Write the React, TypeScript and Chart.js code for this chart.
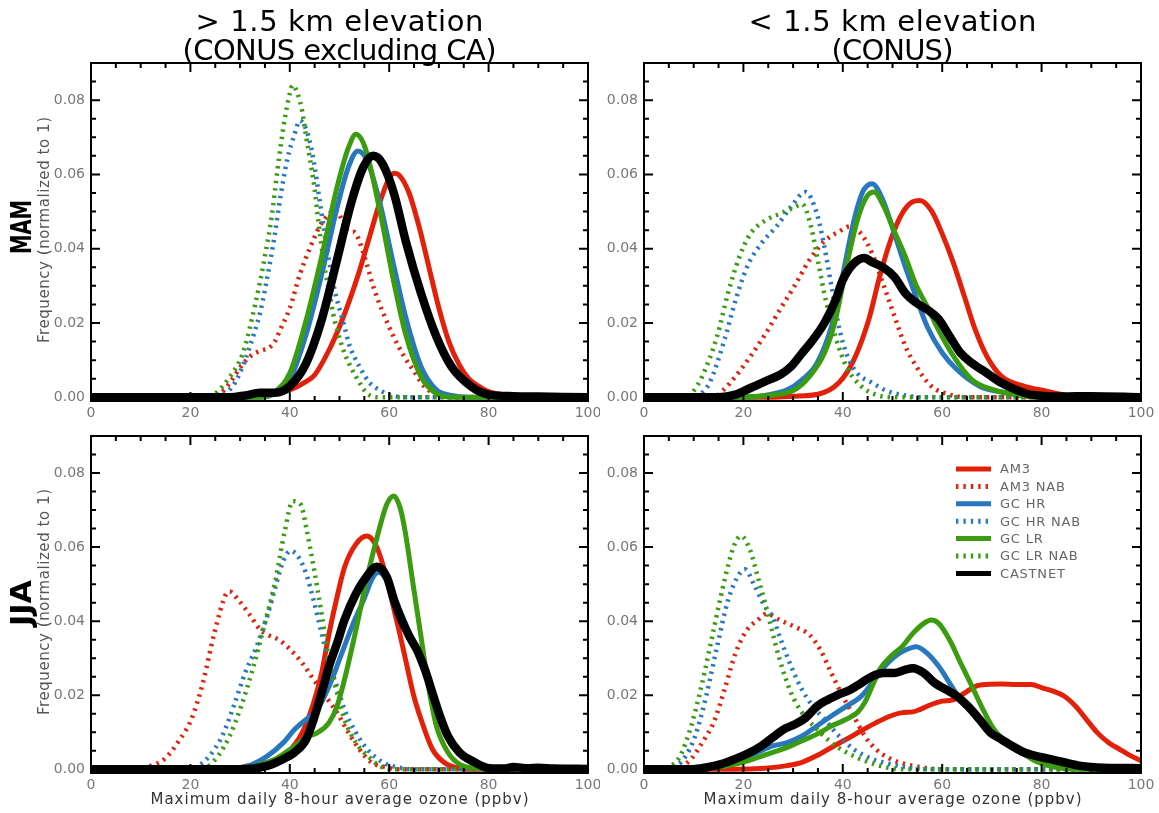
import { useEffect, useRef } from 'react';
import { Chart, registerables } from 'chart.js';

Chart.register(...registerables);

// ---- axes ----
const X_RANGE = [0, 100];
const Y_RANGE = [-0.001, 0.09];
const X_MAJOR = [0, 20, 40, 60, 80, 100];
const X_MINOR = [5, 10, 15, 25, 30, 35, 45, 50, 55, 65, 70, 75, 85, 90, 95];
const Y_MAJOR = [0, 0.02, 0.04, 0.06, 0.08];
const Y_MINOR = [0.005, 0.01, 0.015, 0.025, 0.03, 0.035, 0.045, 0.05, 0.055, 0.065, 0.07, 0.075, 0.085];

// ---- series ----
const SERIES_NAMES = ['AM3', 'AM3 NAB', 'GC HR', 'GC HR NAB', 'GC LR', 'GC LR NAB', 'CASTNET'];
const SERIES_COLORS = ['#e3210b', '#e3210b', '#2878c0', '#2878c0', '#3b9c10', '#3b9c10', '#000000'];
const SERIES_DOTTED = [false, true, false, true, false, true, false];

// MAM, > 1.5 km (CONUS excluding CA): [ozone ppbv, frequency]
const MAM_HIGH_AM3 = [[0, 0], [30, 0], [35, 0.0008], [40, 0.002], [43, 0.004], [45, 0.006], [48, 0.013], [50, 0.019], [52, 0.026], [54, 0.034], [56, 0.043], [58, 0.052], [60, 0.059], [61, 0.0603], [62, 0.0598], [64, 0.055], [66, 0.046], [68, 0.035], [70, 0.024], [72, 0.015], [74, 0.009], [76, 0.005], [78, 0.003], [80, 0.0015], [84, 0.0005], [90, 0], [100, 0]];
const MAM_HIGH_AM3_NAB = [[0, 0], [24, 0], [26, 0.001], [28, 0.004], [30, 0.008], [32, 0.011], [34, 0.0125], [36, 0.0135], [37, 0.015], [38, 0.018], [40, 0.024], [42, 0.033], [44, 0.04], [46, 0.046], [48, 0.0495], [49, 0.0505], [50, 0.049], [51, 0.046], [52, 0.0445], [53, 0.0445], [54, 0.042], [55, 0.038], [57, 0.029], [59, 0.022], [61, 0.016], [63, 0.011], [65, 0.007], [67, 0.003], [69, 0.001], [72, 0], [100, 0]];
const MAM_HIGH_GCHR = [[0, 0], [34, 0], [37, 0.001], [40, 0.0047], [43.3, 0.017], [46.4, 0.033], [49.5, 0.051], [51.8, 0.062], [53.7, 0.0663], [55.6, 0.0636], [58, 0.053], [61, 0.035], [63.3, 0.0217], [66.4, 0.0083], [69.5, 0.002], [72.5, 0.0005], [76, 0], [100, 0]];
const MAM_HIGH_GCHR_NAB = [[0, 0], [25, 0], [27, 0.001], [29, 0.004], [31, 0.01], [33, 0.018], [34, 0.0226], [35, 0.029], [37, 0.044], [38, 0.053], [39.5, 0.064], [41, 0.071], [42, 0.0745], [43, 0.073], [44, 0.069], [45, 0.062], [46, 0.053], [47, 0.044], [48, 0.036], [49, 0.029], [51, 0.019], [52, 0.014], [54, 0.0083], [56, 0.004], [58, 0.002], [60, 0.0007], [63, 0], [100, 0]];
const MAM_HIGH_GCLR = [[0, 0], [34, 0], [37, 0.0015], [40, 0.0065], [43.3, 0.0208], [46.4, 0.0378], [49.5, 0.0565], [51.8, 0.0672], [53.3, 0.0708], [55.2, 0.067], [58, 0.051], [61, 0.0306], [63.3, 0.017], [66.4, 0.0056], [69.5, 0.001], [73, 0], [100, 0]];
const MAM_HIGH_GCLR_NAB = [[0, 0], [23, 0], [25, 0.001], [28, 0.0056], [30, 0.01], [31, 0.0137], [32, 0.019], [34, 0.031], [35, 0.038], [36.4, 0.049], [37.5, 0.061], [38.7, 0.0726], [39.7, 0.08], [40.6, 0.084], [41.5, 0.082], [42.5, 0.077], [43.3, 0.07], [44, 0.0646], [45, 0.056], [45.6, 0.049], [47, 0.035], [48, 0.028], [48.7, 0.0226], [50, 0.016], [51, 0.0119], [53.3, 0.0056], [55.6, 0.001], [58, 0], [100, 0]];
const MAM_HIGH_CASTNET = [[0, 0], [28, 0], [31, 0.0005], [34, 0.0012], [37, 0.0012], [40, 0.003], [43.3, 0.0092], [46.4, 0.0208], [49.5, 0.037], [52.5, 0.053], [54.8, 0.062], [56.8, 0.065], [58.7, 0.0628], [61, 0.0547], [63.3, 0.0422], [66.4, 0.028], [69.5, 0.0163], [72.5, 0.0083], [76.4, 0.003], [80, 0.0007], [85, 0.0003], [90, 0.0002], [100, 0]];

// MAM, < 1.5 km (CONUS)
const MAM_LOW_AM3 = [[0, 0], [25, 0], [30, 0.0003], [35, 0.0008], [39.2, 0.0039], [42.2, 0.01], [45.2, 0.0208], [47.4, 0.0324], [49.6, 0.0422], [51.9, 0.0494], [54, 0.0526], [55.5, 0.053], [57.8, 0.0503], [60, 0.044], [62.3, 0.036], [64.5, 0.027], [66.7, 0.018], [69, 0.011], [71.9, 0.0057], [76.4, 0.003], [80.8, 0.0017], [83.8, 0.0008], [88, 0], [100, 0]];
const MAM_LOW_AM3_NAB = [[0, 0], [14, 0], [16, 0.002], [18.4, 0.0056], [21.4, 0.011], [24.4, 0.017], [27.3, 0.0235], [30.3, 0.03], [33.3, 0.037], [36.3, 0.042], [39.2, 0.0446], [41.5, 0.046], [43.7, 0.044], [45.9, 0.0387], [48.1, 0.0306], [50.4, 0.0218], [52.6, 0.0137], [54.8, 0.0083], [57.8, 0.003], [61.5, 0.0007], [65, 0], [100, 0]];
const MAM_LOW_GCHR = [[0, 0], [18, 0], [24.4, 0.0005], [28.8, 0.002], [31.8, 0.0047], [34.8, 0.0092], [37.7, 0.019], [40, 0.033], [42.2, 0.0473], [44, 0.0553], [45.9, 0.0575], [48.1, 0.053], [50.4, 0.044], [52.6, 0.035], [54.8, 0.0268], [57, 0.019], [60, 0.012], [63, 0.0074], [67.5, 0.003], [72.7, 0.0012], [77, 0.0004], [82, 0], [100, 0]];
const MAM_LOW_GCHR_NAB = [[0, 0], [10, 0], [11.5, 0.001], [13.2, 0.0039], [16.2, 0.0155], [18.4, 0.026], [20.7, 0.035], [23.6, 0.0414], [26.6, 0.0459], [29.6, 0.0513], [32.5, 0.0553], [34.8, 0.0494], [36.3, 0.0405], [37.7, 0.03], [39.2, 0.019], [40.7, 0.0119], [42.9, 0.0065], [45.9, 0.0039], [48.9, 0.0017], [52.6, 0.0005], [56, 0], [100, 0]];
const MAM_LOW_GCLR = [[0, 0], [20, 0], [24.4, 0.0004], [30.3, 0.002], [33.3, 0.0056], [36.3, 0.0119], [38.5, 0.0208], [40.7, 0.035], [42.9, 0.0476], [44.8, 0.054], [46.3, 0.0553], [48.1, 0.0518], [50.4, 0.0446], [52.6, 0.0378], [54.8, 0.03], [57, 0.0244], [59.3, 0.018], [62.3, 0.011], [66, 0.0047], [70.4, 0.002], [74.9, 0.0007], [80, 0], [100, 0]];
const MAM_LOW_GCLR_NAB = [[0, 0], [8, 0], [9.5, 0.001], [11.7, 0.0056], [14.7, 0.0164], [16.9, 0.028], [19.2, 0.0378], [21.4, 0.044], [24.4, 0.0476], [27.3, 0.0494], [30.3, 0.0512], [31.8, 0.052], [33.6, 0.046], [35.1, 0.036], [36.6, 0.026], [38.5, 0.0164], [40.7, 0.0083], [43.7, 0.003], [46.7, 0.0007], [50, 0], [100, 0]];
const MAM_LOW_CASTNET = [[0, 0], [15, 0], [18.4, 0.0007], [21.4, 0.0025], [24.4, 0.0043], [27.3, 0.006], [29.6, 0.0083], [31.8, 0.0119], [34, 0.0155], [36.3, 0.02], [38.5, 0.026], [40, 0.0316], [42.2, 0.036], [44.3, 0.0375], [45.9, 0.0364], [48.1, 0.035], [50.4, 0.0324], [52.6, 0.028], [54.8, 0.0254], [57, 0.0236], [59.3, 0.021], [61.5, 0.0164], [63.7, 0.0119], [66, 0.0092], [69, 0.0065], [71.9, 0.0039], [74.9, 0.002], [77.9, 0.0007], [84, 0.0002], [90, 0.0003], [100, 0]];

// JJA, > 1.5 km (CONUS excluding CA)
const JJA_HIGH_AM3 = [[0, 0], [28, 0], [31.8, 0.001], [35.6, 0.0019], [39.5, 0.0045], [42.5, 0.0099], [44.8, 0.018], [46.4, 0.026], [47.9, 0.0367], [49.5, 0.0465], [51, 0.0545], [53.3, 0.0608], [55.5, 0.063], [57.2, 0.0608], [58.7, 0.0554], [60.2, 0.0474], [61.8, 0.0385], [63.3, 0.0296], [64.8, 0.0206], [66.4, 0.0135], [68.7, 0.0054], [71, 0.0019], [73.3, 0.0005], [76, 0], [100, 0]];
const JJA_HIGH_AM3_NAB = [[0, 0], [10, 0], [11.8, 0.0008], [14.8, 0.0028], [17.9, 0.0081], [20.2, 0.0135], [22.5, 0.0233], [24.8, 0.0367], [27.2, 0.0474], [27.9, 0.048], [29.5, 0.046], [31.8, 0.042], [34.1, 0.0376], [35.6, 0.0363], [37.9, 0.0349], [40.2, 0.0322], [42.5, 0.0287], [44.8, 0.0242], [47.2, 0.0197], [49.5, 0.0153], [51.8, 0.0099], [54, 0.0054], [56.4, 0.0019], [59.5, 0.0005], [62, 0], [100, 0]];
const JJA_HIGH_GCHR = [[0, 0], [26, 0], [31.8, 0.001], [35.6, 0.0037], [38.7, 0.0072], [41, 0.0108], [43.3, 0.0135], [45.6, 0.0162], [47.9, 0.0224], [50.2, 0.0304], [52.5, 0.0385], [54.8, 0.0456], [56.8, 0.052], [57.9, 0.0532], [59.5, 0.051], [61.8, 0.044], [64.1, 0.0367], [66.4, 0.0287], [68.7, 0.0206], [71, 0.0117], [73.3, 0.0054], [76.4, 0.0019], [79.4, 0.0005], [83, 0], [100, 0]];
const JJA_HIGH_GCHR_NAB = [[0, 0], [20, 0], [21, 0.0005], [23.3, 0.0028], [26.4, 0.009], [28.7, 0.017], [31, 0.026], [33.3, 0.0331], [35.6, 0.042], [37.1, 0.0492], [38.7, 0.0563], [40.2, 0.059], [41.8, 0.0572], [43.3, 0.0528], [44.8, 0.0456], [46.4, 0.0367], [47.9, 0.0287], [49.5, 0.0224], [51, 0.0162], [53.3, 0.0099], [55.6, 0.0054], [58.7, 0.0019], [61.8, 0.0005], [65, 0], [100, 0]];
const JJA_HIGH_GCLR = [[0, 0], [28, 0], [31.8, 0.0005], [37.1, 0.0028], [41, 0.0063], [43.3, 0.0086], [45.6, 0.0099], [47.9, 0.0126], [49.5, 0.017], [51, 0.0242], [53.3, 0.0376], [55.6, 0.052], [57.9, 0.0644], [59.5, 0.0715], [60.9, 0.0738], [62.2, 0.0706], [63.3, 0.0635], [64.8, 0.05], [66.4, 0.0358], [67.9, 0.0224], [69.5, 0.0117], [71.8, 0.0046], [74.1, 0.0014], [77.2, 0.0003], [80, 0], [100, 0]];
const JJA_HIGH_GCLR_NAB = [[0, 0], [22, 0], [23.3, 0.0005], [25.6, 0.0037], [27.9, 0.009], [30.2, 0.017], [32.5, 0.0269], [34.8, 0.0385], [37.1, 0.051], [39, 0.0644], [40.6, 0.0724], [42.2, 0.0715], [43.3, 0.0653], [44.8, 0.0546], [46.4, 0.042], [47.9, 0.0296], [49.5, 0.0206], [51, 0.0135], [53.3, 0.0072], [55.6, 0.0037], [58.7, 0.0005], [62, 0], [100, 0]];
const JJA_HIGH_CASTNET = [[0, 0], [30, 0], [35.6, 0.001], [38.7, 0.0028], [41, 0.0046], [43.3, 0.0081], [44.8, 0.0135], [46.4, 0.0206], [47.9, 0.0278], [49.5, 0.034], [51, 0.0403], [53.3, 0.0474], [55.6, 0.0523], [57.5, 0.0547], [59.5, 0.052], [61, 0.0456], [62.5, 0.0403], [64.1, 0.0358], [65.6, 0.0322], [67.2, 0.0269], [68.7, 0.0206], [70.2, 0.0144], [71.8, 0.009], [74.1, 0.0046], [77.2, 0.0019], [80.2, 0.0003], [83, 0.0002], [85, 0.0006], [88, 0.0003], [90, 0.0004], [93, 0.0002], [100, 0.0001]];

// JJA, < 1.5 km (CONUS)
const JJA_LOW_AM3 = [[0, 0], [18, 0], [24.4, 0.0003], [28.8, 0.001], [31.8, 0.0019], [34.8, 0.0037], [37.7, 0.0059], [40.7, 0.0081], [43.7, 0.0104], [46.7, 0.0126], [49.6, 0.0144], [51.9, 0.0153], [54.1, 0.0155], [55.6, 0.0162], [57.8, 0.0175], [60, 0.0184], [62.3, 0.0188], [64.5, 0.0206], [66.7, 0.0224], [69, 0.0229], [71.9, 0.023], [74.9, 0.0229], [77.9, 0.0229], [80.1, 0.022], [82.3, 0.0211], [84.5, 0.0198], [86.8, 0.0171], [89, 0.0135], [91.2, 0.0099], [93.5, 0.0072], [95.7, 0.0054], [97.9, 0.0037], [100, 0.0023]];
const JJA_LOW_AM3_NAB = [[0, 0], [6, 0], [7.3, 0.0005], [9.5, 0.0028], [11.7, 0.0072], [14, 0.0126], [16.2, 0.0215], [18.4, 0.0313], [20.7, 0.0376], [22.9, 0.0403], [24.7, 0.042], [27.3, 0.0403], [30.3, 0.0385], [33.3, 0.0363], [35.5, 0.0322], [37.7, 0.026], [40, 0.0197], [42.2, 0.0144], [44.4, 0.009], [46.7, 0.0054], [49.6, 0.0028], [52.6, 0.0014], [57, 0.0003], [60, 0], [100, 0]];
const JJA_LOW_GCHR = [[0, 0], [9.5, 0], [14, 0.0005], [16.9, 0.0014], [19.9, 0.0028], [22.9, 0.0046], [25.9, 0.0063], [28.8, 0.0072], [31.8, 0.009], [34.8, 0.0117], [37.7, 0.0144], [40.7, 0.017], [43.7, 0.0197], [45.9, 0.0233], [48.1, 0.0273], [50.4, 0.0304], [52.6, 0.0322], [54.8, 0.0331], [57, 0.0313], [59.3, 0.0278], [61.5, 0.0233], [63.7, 0.0188], [66, 0.0153], [68.2, 0.0117], [70.4, 0.009], [73.4, 0.0063], [76.4, 0.0041], [79.3, 0.0023], [82.3, 0.001], [86.8, 0.0002], [90, 0], [100, 0]];
const JJA_LOW_GCHR_NAB = [[0, 0], [5, 0], [5.8, 0.0005], [8, 0.0028], [10.3, 0.009], [12.5, 0.0197], [14.7, 0.0331], [16.9, 0.0456], [19.2, 0.0528], [20.3, 0.054], [22.1, 0.05], [24.4, 0.0438], [25.9, 0.0411], [27.3, 0.0358], [29.6, 0.0278], [31.8, 0.0215], [34, 0.017], [36.3, 0.0135], [39.2, 0.009], [42.2, 0.0054], [45.9, 0.0028], [49.6, 0.0014], [54, 0.0003], [58, 0], [100, 0]];
const JJA_LOW_GCLR = [[0, 0], [11, 0], [16.9, 0.001], [19.9, 0.0019], [22.9, 0.0032], [25.9, 0.0046], [28.8, 0.0059], [31.8, 0.0077], [34.8, 0.0095], [37.7, 0.0117], [40.7, 0.0135], [42.9, 0.0153], [44.4, 0.018], [45.9, 0.0224], [47.4, 0.0269], [49.6, 0.0304], [51.9, 0.0331], [54.1, 0.0367], [56.3, 0.0394], [57.8, 0.0403], [59.3, 0.0394], [61.5, 0.0349], [63.7, 0.0287], [66, 0.0224], [68.2, 0.0162], [70.4, 0.0108], [73.4, 0.0068], [76.4, 0.0041], [79.3, 0.0019], [83.1, 0.0005], [87, 0], [100, 0]];
const JJA_LOW_GCLR_NAB = [[0, 0], [4, 0], [5, 0.0005], [7.3, 0.0037], [9.5, 0.0117], [11.7, 0.0233], [14, 0.0376], [16.2, 0.051], [18, 0.06], [19.5, 0.063], [21.4, 0.059], [22.9, 0.0519], [24.4, 0.0447], [25.9, 0.0367], [27.3, 0.0296], [29.6, 0.0206], [31.8, 0.0153], [34.8, 0.0108], [37.7, 0.0072], [40.7, 0.0046], [44.4, 0.0023], [48.9, 0.0005], [52, 0], [100, 0]];
const JJA_LOW_CASTNET = [[0, 0], [9.5, 0], [12.5, 0.0005], [15.5, 0.0014], [18.4, 0.0028], [21.4, 0.0046], [23.6, 0.0063], [25.9, 0.0086], [28.1, 0.0108], [30.3, 0.0121], [32.5, 0.0139], [34.8, 0.017], [37, 0.0188], [39.2, 0.0202], [41.5, 0.0215], [43.7, 0.0233], [45.9, 0.0251], [48.1, 0.026], [50.4, 0.026], [52.6, 0.0269], [54.1, 0.0273], [56.3, 0.026], [58.5, 0.0233], [60.8, 0.0215], [63, 0.0197], [65.2, 0.017], [67.5, 0.0135], [69.7, 0.0099], [71.9, 0.0081], [74.1, 0.0063], [76.4, 0.0046], [78.6, 0.0037], [81.6, 0.0028], [84.5, 0.0019], [87.5, 0.001], [91.2, 0.0005], [100, 0.0003]];

// ---- text ----
const TITLE_HIGH = ['> 1.5 km elevation', '(CONUS excluding CA)'];
const TITLE_LOW = ['< 1.5 km elevation', '(CONUS)'];
const Y_TITLE = 'Frequency (normalized to 1)';
const X_TITLE = 'Maximum daily 8-hour average ozone (ppbv)';

const FONT = "'DejaVu Sans', 'Liberation Sans', sans-serif";
Chart.defaults.font.family = FONT;

type Pt = number[];
type PanelSpec = {
  id: string;
  x: number; y: number; w: number; h: number;
  area: { l: number; t: number; r: number; b: number };
  series: Pt[][];
  title?: { lines: string[]; widths: number[] };
  season?: { text: string; cy: number; len: number };
  yTitleCy?: number;
  xTitle?: boolean;
  legend?: boolean;
};

const PANELS: PanelSpec[] = [
  {
    id: 'mam-high', x: 0, y: 0, w: 600, h: 420,
    area: { l: 91, t: 63, r: 588, b: 401 },
    series: [MAM_HIGH_AM3, MAM_HIGH_AM3_NAB, MAM_HIGH_GCHR, MAM_HIGH_GCHR_NAB, MAM_HIGH_GCLR, MAM_HIGH_GCLR_NAB, MAM_HIGH_CASTNET],
    title: { lines: TITLE_HIGH, widths: [288, 314] },
    season: { text: 'MAM', cy: 227, len: 54 },
    yTitleCy: 230,
  },
  {
    id: 'mam-low', x: 600, y: 0, w: 559, h: 420,
    area: { l: 44, t: 63, r: 541, b: 401 },
    series: [MAM_LOW_AM3, MAM_LOW_AM3_NAB, MAM_LOW_GCHR, MAM_LOW_GCHR_NAB, MAM_LOW_GCLR, MAM_LOW_GCLR_NAB, MAM_LOW_CASTNET],
    title: { lines: TITLE_LOW, widths: [288, 122] },
  },
  {
    id: 'jja-high', x: 0, y: 420, w: 600, h: 393,
    area: { l: 91, t: 16, r: 588, b: 353 },
    series: [JJA_HIGH_AM3, JJA_HIGH_AM3_NAB, JJA_HIGH_GCHR, JJA_HIGH_GCHR_NAB, JJA_HIGH_GCLR, JJA_HIGH_GCLR_NAB, JJA_HIGH_CASTNET],
    season: { text: 'JJA', cy: 183, len: 46 },
    yTitleCy: 182,
    xTitle: true,
  },
  {
    id: 'jja-low', x: 600, y: 420, w: 559, h: 393,
    area: { l: 44, t: 16, r: 541, b: 353 },
    series: [JJA_LOW_AM3, JJA_LOW_AM3_NAB, JJA_LOW_GCHR, JJA_LOW_GCHR_NAB, JJA_LOW_GCLR, JJA_LOW_GCLR_NAB, JJA_LOW_CASTNET],
    xTitle: true,
    legend: true,
  },
];

// Draws text centred at (cx, cy); stretched to `width` either by letter spacing or by horizontal scaling.
function fitText(
  ctx: CanvasRenderingContext2D, text: string, cx: number, cy: number,
  font: string, color: string, width: number,
  opts: { rotate?: boolean; scale?: boolean; baseline?: CanvasTextBaseline } = {},
) {
  ctx.save();
  ctx.font = font;
  ctx.fillStyle = color;
  ctx.textBaseline = opts.baseline ?? 'alphabetic';
  (ctx as any).letterSpacing = '0px';
  ctx.translate(cx, cy);
  if (opts.rotate) ctx.rotate(-Math.PI / 2);
  const w = ctx.measureText(text).width;
  if (opts.scale) {
    ctx.scale(width / w, 1);
    ctx.textAlign = 'center';
    ctx.fillText(text, 0, 0);
  } else {
    const sp = text.length > 1 ? (width - w) / (text.length - 1) : 0;
    (ctx as any).letterSpacing = `${sp}px`;
    ctx.textAlign = 'left';
    ctx.fillText(text, -width / 2, 0);
  }
  (ctx as any).letterSpacing = '0px';
  ctx.restore();
}

const MAJOR_LEN = 9;
const MINOR_LEN = 5;

function decorPlugin(spec: PanelSpec) {
  return {
    id: 'panelDecor',
    afterDatasetsDraw(chart: Chart) {
      const ctx = chart.ctx;
      const { left, right, top, bottom } = chart.chartArea;
      const xs = chart.scales.x;
      const ys = chart.scales.y;
      ctx.save();
      ctx.strokeStyle = '#000';
      ctx.lineWidth = 2;
      ctx.strokeRect(left, top, right - left, bottom - top);
      ctx.beginPath();
      const xTick = (v: number, len: number) => {
        const p = xs.getPixelForValue(v);
        ctx.moveTo(p, bottom); ctx.lineTo(p, bottom - len);
        ctx.moveTo(p, top); ctx.lineTo(p, top + len);
      };
      const yTick = (v: number, len: number) => {
        const p = ys.getPixelForValue(v);
        ctx.moveTo(left, p); ctx.lineTo(left + len, p);
        ctx.moveTo(right, p); ctx.lineTo(right - len, p);
      };
      X_MAJOR.forEach((v) => xTick(v, MAJOR_LEN));
      X_MINOR.forEach((v) => xTick(v, MINOR_LEN));
      Y_MAJOR.forEach((v) => yTick(v, MAJOR_LEN));
      Y_MINOR.forEach((v) => yTick(v, MINOR_LEN));
      ctx.stroke();
      ctx.restore();
    },
    afterDraw(chart: Chart) {
      const ctx = chart.ctx;
      const { left, right, top, bottom } = chart.chartArea;
      const cx = (left + right) / 2;
      if (spec.title) {
        fitText(ctx, spec.title.lines[0], cx, top - 32, `29px ${FONT}`, '#000', spec.title.widths[0]);
        fitText(ctx, spec.title.lines[1], cx, top - 3, `29px ${FONT}`, '#000', spec.title.widths[1]);
      }
      if (spec.season) {
        fitText(ctx, spec.season.text, 23, spec.season.cy, `bold 29px ${FONT}`, '#000', spec.season.len,
          { rotate: true, scale: true, baseline: 'middle' });
      }
      if (spec.yTitleCy !== undefined) {
        fitText(ctx, Y_TITLE, 45, spec.yTitleCy, `15px ${FONT}`, '#555', 226, { rotate: true, baseline: 'middle' });
      }
      if (spec.xTitle) {
        fitText(ctx, X_TITLE, cx, bottom + 27, `15px ${FONT}`, '#333', 378, { baseline: 'middle' });
      }
      if (spec.legend) {
        const x0 = right - 185;
        const x1 = x0 + 35;
        const y0 = top + 33;
        const dy = 17.4;
        chart.data.datasets.forEach((ds: any, i: number) => {
          const y = y0 + i * dy;
          ctx.save();
          ctx.strokeStyle = ds.borderColor;
          ctx.lineWidth = 5;
          ctx.lineCap = 'butt';
          ctx.setLineDash(ds.borderDash || []);
          ctx.beginPath();
          ctx.moveTo(x0, y);
          ctx.lineTo(x1, y);
          ctx.stroke();
          ctx.restore();
          ctx.save();
          ctx.font = `13px ${FONT}`;
          ctx.fillStyle = '#666';
          ctx.textBaseline = 'middle';
          ctx.textAlign = 'left';
          (ctx as any).letterSpacing = '0.8px';
          ctx.fillText(ds.label, x1 + 9, y + 1);
          (ctx as any).letterSpacing = '0px';
          ctx.restore();
        });
      }
    },
  };
}

function buildConfig(spec: PanelSpec): any {
  const datasets = spec.series.map((pts, i) => ({
    label: SERIES_NAMES[i],
    data: pts.map(([x, y]) => ({ x, y })),
    borderColor: SERIES_COLORS[i],
    backgroundColor: SERIES_COLORS[i],
    borderWidth: SERIES_NAMES[i] === 'CASTNET' ? 8.5 : SERIES_DOTTED[i] ? 4.5 : 5,
    borderDash: SERIES_DOTTED[i] ? [2.4, 5] : [],
    borderCapStyle: 'butt',
    borderJoinStyle: 'round',
    pointRadius: 0,
    pointHoverRadius: 0,
    cubicInterpolationMode: 'monotone',
    fill: false,
    order: SERIES_NAMES.length - 1 - i,
  }));
  // Axis boxes take exactly the margin around the plot frame.
  const fitAxis = (horizontal: boolean) => (scale: any) => {
    if (horizontal) scale.height = spec.h - spec.area.b; else scale.width = spec.area.l;
    scale.paddingLeft = 0;
    scale.paddingRight = 0;
    scale.paddingTop = 0;
    scale.paddingBottom = 0;
  };
  const tickFont = { size: 14, family: FONT };
  return {
    type: 'line',
    data: { datasets },
    options: {
      responsive: false,
      animation: false,
      events: [],
      layout: {
        padding: {
          left: 0,
          top: spec.area.t,
          right: spec.w - spec.area.r,
          bottom: 0,
        },
      },
      plugins: { legend: { display: false }, tooltip: { enabled: false }, title: { display: false } },
      scales: {
        x: {
          type: 'linear',
          min: X_RANGE[0],
          max: X_RANGE[1],
          grid: { display: false, drawTicks: false },
          border: { display: false },
          afterBuildTicks: (axis: any) => { axis.ticks = X_MAJOR.map((value) => ({ value })); },
          afterFit: fitAxis(true),
          ticks: {
            autoSkip: false,
            maxRotation: 0,
            padding: 4,
            color: '#777',
            font: tickFont,
            callback: (v: number) => String(v),
          },
        },
        y: {
          type: 'linear',
          min: Y_RANGE[0],
          max: Y_RANGE[1],
          grid: { display: false, drawTicks: false },
          border: { display: false },
          afterBuildTicks: (axis: any) => { axis.ticks = Y_MAJOR.map((value) => ({ value })); },
          afterFit: fitAxis(false),
          ticks: {
            autoSkip: false,
            padding: 6,
            color: '#777',
            font: tickFont,
            callback: (v: number) => v.toFixed(2),
          },
        },
      },
    },
    plugins: [decorPlugin(spec)],
  };
}

function Panel({ spec }: { spec: PanelSpec }) {
  const ref = useRef<HTMLCanvasElement>(null);
  useEffect(() => {
    if (!ref.current) return;
    const chart = new Chart(ref.current, buildConfig(spec));
    return () => chart.destroy();
  }, [spec]);
  return (
    <canvas
      ref={ref}
      width={spec.w}
      height={spec.h}
      style={{ position: 'absolute', left: spec.x, top: spec.y, width: spec.w, height: spec.h }}
    />
  );
}

export default function App() {
  return (
    <div style={{ position: 'fixed', left: 0, top: 0, width: 1159, height: 813, background: '#fff', overflow: 'hidden' }}>
      {PANELS.map((p) => <Panel key={p.id} spec={p} />)}
    </div>
  );
}
